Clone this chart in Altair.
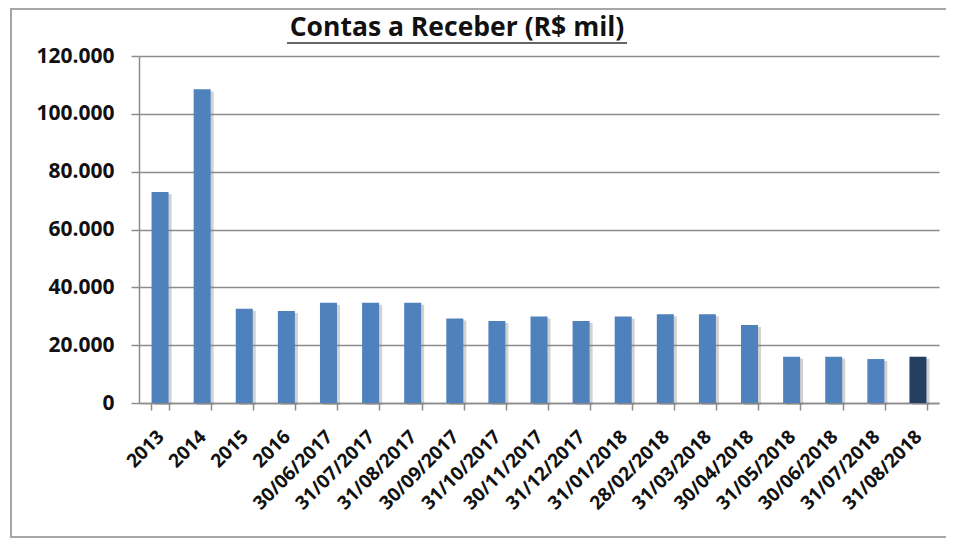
import altair as alt
import pandas as pd

categories = ["2013", "2014", "2015", "2016", "30/06/2017", "31/07/2017", "31/08/2017",
              "30/09/2017", "31/10/2017", "30/11/2017", "31/12/2017", "31/01/2018",
              "28/02/2018", "31/03/2018", "30/04/2018", "31/05/2018", "30/06/2018",
              "31/07/2018", "31/08/2018"]
values = [73000, 108500, 32600, 31800, 34700, 34700, 34700, 29200, 28400, 29900,
          28400, 29900, 30700, 30700, 27000, 16000, 16000, 15200, 16000]
highlight = [False] * 18 + [True]
title_text = "Contas a Receber (R$ mil)"

df = pd.DataFrame({"cat": categories, "val": values, "hl": highlight})
one = pd.DataFrame({"k": [0]})

FONT = "Open Sans"
x_enc = alt.X("cat:N", sort=None, title=None,
              scale=alt.Scale(paddingInner=0.58, paddingOuter=0.29),
              axis=alt.Axis(labelAngle=-45, labelFont=FONT, labelFontWeight="bold",
                            labelFontSize=19, labelColor="#111111", labelPadding=17,
                            labelOffset=-6,
                            tickBand="extent", tickSize=7, tickColor="#8c8c8c",
                            tickWidth=1.5, domainColor="#8c8c8c", domainWidth=1.5,
                            grid=False))
y_enc = alt.Y("val:Q", title=None,
              scale=alt.Scale(domain=[0, 120000], nice=False),
              axis=alt.Axis(values=[0, 20000, 40000, 60000, 80000, 100000, 120000],
                            labelExpr="replace(format(datum.value, ','), ',', '.')",
                            labelFont=FONT, labelFontWeight="bold", labelFontSize=21,
                            labelColor="#111111", labelPadding=17, tickSize=8,
                            tickColor="#8c8c8c", tickWidth=1.5, domainColor="#8c8c8c",
                            domainWidth=1.5, grid=True, gridColor="#8c8c8c",
                            gridWidth=1.5))

shadow = alt.Chart(df).mark_bar(size=17, xOffset=3, yOffset=2, color="#7f7f7f",
                                opacity=0.35).encode(x=x_enc, y=y_enc)
bars = alt.Chart(df).mark_bar(size=17).encode(
    x=x_enc, y=y_enc,
    color=alt.Color("hl:N", scale=alt.Scale(domain=[False, True],
                                            range=["#4F81BD", "#243F60"]),
                    legend=None))

border = alt.Chart(one).mark_rect(filled=False, stroke="#a6a6a6", strokeWidth=2).encode(
    x=alt.value(-128), x2=alt.value(830), y=alt.value(-47), y2=alt.value(481))

title = alt.Chart(one).mark_text(font=FONT, fontWeight="bold", fontSize=26.5,
                                 color="#111111", align="center",
                                 baseline="middle").encode(
    x=alt.value(318), y=alt.value(-28), text=alt.value(title_text))

underline = alt.Chart(one).mark_rule(color="#333333", strokeWidth=1.5).encode(
    x=alt.value(148), x2=alt.value(488), y=alt.value(-13))

chart = alt.layer(border, shadow, bars, title, underline).properties(
    width=800, height=347,
    autosize=alt.AutoSizeParams(type="none"),
    padding={"left": 131, "top": 48, "right": 7, "bottom": 136},
    background="white",
).configure_view(stroke=None)

chart.save("out.html", embed_options={"renderer": "svg", "actions": False})
